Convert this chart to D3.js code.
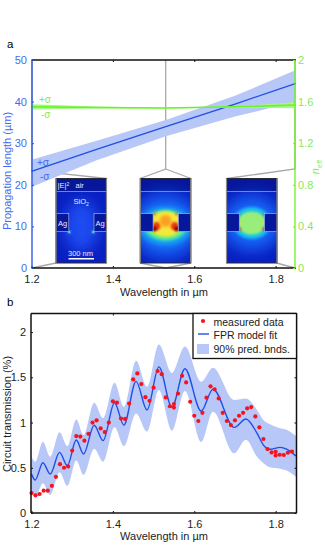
<!DOCTYPE html>
<html>
<head>
<meta charset="utf-8">
<script src="https://cdn.jsdelivr.net/npm/d3@7"></script>
<style>
  html, body { margin: 0; padding: 0; background: #fff; }
  svg { display: block; }
  text { font-family: "Liberation Sans", Arial, sans-serif; }
</style>
</head>
<body>
<div id="chart"></div>
<script>
const BLUE = "#1f4fe6";
const BLUE_TEXT = "#3f6cf0";
const BAND = "#b7c7f7";
const GREEN = "#66f51e";
const GREEN_TEXT = "#86ea58";
const GREY = "#a8a8a8";

// panel a
const xTicks = [1.2, 1.4, 1.6, 1.8];
const lengthTicks = [0, 10, 20, 30, 40, 50];
const neffTicks = [0, 0.4, 0.8, 1.2, 1.6, 2];
const aW = [1.2, 1.36, 1.53, 1.7, 1.85];
const lengthMid = [23.2, 28.5, 34, 39.4, 44.4];
const lengthUpper = [26, 30.6, 35.6, 41.4, 47.6];
const lengthLower = [19.5, 25.9, 31.7, 36.4, 40];
const neffMid = [1.551, 1.543, 1.538, 1.55, 1.567];
const neffUpper = [1.575, 1.552, 1.54, 1.556, 1.595];
const neffLower = [1.525, 1.534, 1.536, 1.542, 1.535];

// panel b
const transTicks = [0, 0.5, 1, 1.5, 2];
const fitW = [1.2, 1.209, 1.228, 1.246, 1.269, 1.288, 1.31, 1.328, 1.354, 1.376, 1.404, 1.427, 1.457, 1.484, 1.513, 1.545, 1.577, 1.617, 1.646, 1.698, 1.727, 1.754, 1.77, 1.786, 1.811, 1.827, 1.85];
const fitT = [0.43, 0.365, 0.556, 0.431, 0.67, 0.523, 0.807, 0.652, 0.97, 0.8, 1.219, 0.972, 1.455, 1.138, 1.615, 1.17, 1.595, 1.127, 1.37, 0.947, 1.039, 0.884, 0.751, 0.704, 0.726, 0.707, 0.63];
const upperT = [0.622, 0.567, 0.788, 0.622, 0.892, 0.74, 1.035, 0.862, 1.219, 1.05, 1.44, 1.175, 1.683, 1.396, 1.864, 1.547, 1.84, 1.45, 1.605, 1.249, 1.267, 1.14, 1.028, 0.98, 0.936, 0.92, 0.85];
const lowerT = [0.236, 0.17, 0.33, 0.2, 0.45, 0.3, 0.58, 0.42, 0.71, 0.567, 0.95, 0.74, 1.1, 0.9, 1.36, 0.91, 1.35, 0.785, 1.12, 0.66, 0.81, 0.622, 0.55, 0.505, 0.49, 0.47, 0.4];
const dotW = [1.2, 1.21, 1.22, 1.23, 1.24, 1.25, 1.26, 1.27, 1.28, 1.29, 1.3, 1.31, 1.32, 1.33, 1.34, 1.35, 1.36, 1.37, 1.38, 1.39, 1.4, 1.41, 1.42, 1.43, 1.44, 1.45, 1.46, 1.47, 1.48, 1.49, 1.5, 1.51, 1.52, 1.53, 1.54, 1.55, 1.55, 1.56, 1.57, 1.58, 1.59, 1.6, 1.61, 1.62, 1.63, 1.64, 1.65, 1.66, 1.67, 1.68, 1.69, 1.7, 1.71, 1.72, 1.73, 1.74, 1.75, 1.76, 1.77, 1.78, 1.79, 1.8, 1.8, 1.81, 1.82, 1.83, 1.84];
const dotT = [0.22, 0.195, 0.21, 0.247, 0.247, 0.3, 0.4, 0.54, 0.5, 0.515, 0.69, 0.85, 0.845, 0.8, 0.875, 1.0, 1.025, 0.935, 0.895, 1.0, 1.235, 1.22, 1.045, 1.04, 1.21, 1.477, 1.543, 1.425, 1.28, 1.24, 1.385, 1.57, 1.535, 1.278, 1.18, 1.205, 1.165, 1.32, 1.517, 1.444, 1.23, 1.075, 1.017, 1.108, 1.275, 1.4, 1.367, 1.267, 1.108, 1.017, 0.972, 1.024, 1.075, 1.108, 1.157, 1.171, 1.068, 0.947, 0.818, 0.707, 0.67, 0.677, 0.637, 0.644, 0.641, 0.666, 0.68];
const legendLabels = ["measured data", "FPR model fit", "90% pred. bnds."];

const svg = d3.select("#chart").append("svg").attr("width", 325).attr("height", 551);
const defs = svg.append("defs");
[["blur1", 0.8], ["blur2", 1.6], ["blur3", 3.5], ["blur4", 7]].forEach(function (b) {
  defs.append("filter").attr("id", b[0])
    .attr("x", "-60%").attr("y", "-60%").attr("width", "220%").attr("height", "220%")
    .append("feGaussianBlur").attr("stdDeviation", b[1]);
});

const x = d3.scaleLinear().domain([1.2, 1.85]).range([31.5, 296]);
const yLen = d3.scaleLinear().domain([0, 50]).range([268, 60]);
const yN = d3.scaleLinear().domain([0, 2]).range([268, 60]);
const yT = d3.scaleLinear().domain([0, 2.2]).range([513, 314]);

function tickText(sel, size, fill) {
  sel.selectAll("text").attr("font-size", size).attr("fill", fill);
}

/* ---------- panel a ---------- */
const a = svg.append("g");
a.append("text").attr("x", 7).attr("y", 48).attr("font-size", 11.5).text("a");

// grey zoom lines from the curve down to the insets
const zoomLines = [
  [[32, 60], [32, 170.5], [106.5, 178.5]],
  [[32, 268], [56, 263]],
  [[165.7, 60], [165.7, 169], [140, 178.5]],
  [[165.7, 169], [191, 178.5]],
  [[140, 263], [165.7, 268], [191, 263]],
  [[295, 60], [295, 169], [227, 178.5]],
  [[276.5, 263], [295, 268]]
];
a.selectAll("path.zoomline").data(zoomLines).join("path")
  .attr("class", "zoomline").attr("fill", "none")
  .attr("stroke", GREY).attr("stroke-width", 1.3)
  .attr("d", d3.line());

const aIdx = d3.range(aW.length);
a.append("path").attr("fill", BAND).attr("d", d3.area()
  .x(i => x(aW[i])).y0(i => yLen(lengthLower[i])).y1(i => yLen(lengthUpper[i]))(aIdx));
a.append("path").attr("fill", "none").attr("stroke", BLUE).attr("stroke-width", 1.3)
  .attr("d", d3.line().x(i => x(aW[i])).y(i => yLen(lengthMid[i]))(aIdx));
a.append("path").attr("fill", "#a8f58a").attr("d", d3.area()
  .x(i => x(aW[i])).y0(i => yN(neffLower[i])).y1(i => yN(neffUpper[i]))(aIdx));
a.append("path").attr("fill", "none").attr("stroke", GREEN).attr("stroke-width", 1.4)
  .attr("d", d3.line().x(i => x(aW[i])).y(i => yN(neffMid[i]))(aIdx));

// sigma labels
[["+σ", 39, 103, GREEN_TEXT], ["-σ", 41, 118, GREEN_TEXT], ["+σ", 37, 166, BLUE_TEXT], ["-σ", 40, 180, BLUE_TEXT]].forEach(function (s) {
  a.append("text").attr("x", s[1]).attr("y", s[2]).attr("font-size", 10).attr("fill", s[3]).text(s[0]);
});

// field insets, built from blurred shapes
function inset(left, hot) {
  const w = 50.5, top = 178.5, h = 84.5;
  const id = "clip" + Math.round(left);
  defs.append("clipPath").attr("id", id).append("rect")
    .attr("x", left).attr("y", top).attr("width", w).attr("height", h);
  const g = a.append("g");
  const f = g.append("g").attr("clip-path", `url(#${id})`);
  const cx = left + w / 2;
  f.append("rect").attr("x", left).attr("y", top).attr("width", w).attr("height", h).attr("fill", "#0a1fc0");
  f.append("rect").attr("x", left).attr("y", top).attr("width", w).attr("height", 13).attr("fill", "#06179c");
  function blob(rx, ry, cy, fill, blur) {
    f.append("ellipse").attr("cx", cx).attr("cy", cy).attr("rx", rx).attr("ry", ry)
      .attr("fill", fill).attr("filter", blur ? `url(#${blur})` : null);
  }
  function pair(dx, cy, r, fill, blur) {
    [-1, 1].forEach(function (s) {
      f.append("circle").attr("cx", cx + s * dx).attr("cy", cy).attr("r", r)
        .attr("fill", fill).attr("filter", blur ? `url(#${blur})` : null);
    });
  }
  if (hot === 0) {
    blob(17, 26, 226, "#1a4cf0", "blur4");
    pair(12, 232, 1.6, "#2be0e0", "blur1");
    pair(12, 232, 0.8, "#e8f060", null);
  } else if (hot === 1) {
    blob(34, 32, 226, "#1560f5", "blur4");
    blob(26, 18, 226, "#16c0f0", "blur3");
    blob(21, 15, 225, "#6cf080", "blur2");
    blob(17, 12.5, 224, "#f4e83a", "blur1");
    pair(9, 226, 4, "#f03a10", "blur1");
    pair(11, 229, 2.4, "#7a0606", "blur1");
    pair(11, 214, 1.3, "#f05020", "blur1");
    blob(6, 6, 221, "#fda020", "blur2");
  } else {
    blob(30, 28, 223, "#1560f5", "blur4");
    blob(19, 16, 223, "#18c4ee", "blur2");
    blob(14, 11.5, 223, "#98ee78", "blur1");
    pair(12, 223, 1.2, "#f6dc30", "blur1");
    pair(12.5, 229, 1.8, "#e82a10", "blur1");
    pair(12.5, 214.5, 1.1, "#e84a18", "blur1");
  }
  // Ag blocks and the interface line
  const gap = 12.5;
  [[left, left + gap + 0.3], [left + w - gap, left + w + 1]].forEach(function (r) {
    f.append("rect").attr("x", r[0]).attr("y", 213.5).attr("width", r[1] - r[0]).attr("height", 18)
      .attr("fill", "#06179c").attr("stroke", "#9fb0ea").attr("stroke-width", 0.7);
  });
  f.append("line").attr("x1", left).attr("x2", left + w).attr("y1", 191.5).attr("y2", 191.5)
    .attr("stroke", "#7c90e6").attr("stroke-width", 0.9);
  g.append("rect").attr("x", left).attr("y", top).attr("width", w).attr("height", h)
    .attr("fill", "none").attr("stroke", "#2a2a3a").attr("stroke-width", 1);
  g.append("line").attr("x1", left).attr("x2", left).attr("y1", top).attr("y2", top + h)
    .attr("stroke", "#8a8a8a").attr("stroke-width", 1.2);
  g.append("line").attr("x1", left + w).attr("x2", left + w).attr("y1", top).attr("y2", top + h)
    .attr("stroke", "#8a8a8a").attr("stroke-width", 1.2);
  return g;
}
const first = inset(56, 0);
inset(140.3, 1);
inset(226.5, 2);

function insetText(t, px, py, size, anchor) {
  return first.append("text").attr("x", px).attr("y", py).attr("font-size", size)
    .attr("fill", "#e8ecff").attr("text-anchor", anchor || "start").text(t);
}
const eText = insetText("|E|", 57.5, 188, 7.5);
eText.append("tspan").attr("font-size", 5).attr("dy", -2.5).text("2");
insetText("air", 75.5, 188, 7.5);
const sioText = insetText("SiO", 73.5, 204, 7.5);
sioText.append("tspan").attr("font-size", 5).attr("dy", 2).text("2");
insetText("Ag", 62.7, 226, 7.5, "middle");
insetText("Ag", 100, 226, 7.5, "middle");
insetText("300 nm", 80.5, 257, 7.5, "middle").attr("y", 256);
first.append("rect").attr("x", 68.5).attr("y", 258).attr("width", 25.5).attr("height", 1.5).attr("fill", "#fff");

// axes of panel a
const aBottom = a.append("g").attr("transform", "translate(0,268)")
  .call(d3.axisBottom(x).tickValues(xTicks).tickFormat(d3.format(".1f")).tickSize(-2).tickPadding(7));
aBottom.select(".domain").attr("stroke", "#111").attr("stroke-width", 1.5).attr("d", "M31.5,0H296");
aBottom.selectAll("line").attr("stroke", "#111");
tickText(aBottom, 11, "#222");
const aTop = a.append("g").attr("transform", "translate(0,60)")
  .call(d3.axisTop(x).tickValues(xTicks.slice(1)).tickFormat("").tickSize(-2));
aTop.select(".domain").attr("stroke", "#111").attr("stroke-width", 1.5).attr("d", "M31.5,0H296");
aTop.selectAll("line").attr("stroke", "#111");
const aLeft = a.append("g").attr("transform", "translate(32,0)")
  .call(d3.axisLeft(yLen).tickValues(lengthTicks).tickSize(-2).tickPadding(5));
aLeft.select(".domain").attr("stroke", BLUE).attr("stroke-width", 1.3).attr("d", "M0,60V268");
aLeft.selectAll("line").attr("stroke", BLUE);
tickText(aLeft, 11, BLUE_TEXT);
const aRight = a.append("g").attr("transform", "translate(295,0)")
  .call(d3.axisRight(yN).tickValues(neffTicks).tickFormat(d => d).tickSize(-2).tickPadding(4));
aRight.select(".domain").attr("stroke", GREEN).attr("stroke-width", 1.3).attr("d", "M0,60V268");
aRight.selectAll("line").attr("stroke", GREEN);
tickText(aRight, 11, GREEN_TEXT);
aRight.selectAll("text").attr("x", 3);

a.append("text").attr("transform", "translate(11,171) rotate(-90)").attr("text-anchor", "middle")
  .attr("font-size", 11).attr("fill", BLUE_TEXT).text("Propagation length (µm)");
const neffLabel = a.append("text").attr("transform", "translate(319,167) rotate(-90)").attr("text-anchor", "middle")
  .attr("font-size", 11).attr("fill", GREEN_TEXT);
neffLabel.append("tspan").attr("font-style", "italic").text("n");
neffLabel.append("tspan").attr("font-size", 7.5).attr("dy", 2.5).text("eff");
a.append("text").attr("x", 164).attr("y", 296).attr("text-anchor", "middle").attr("font-size", 11)
  .attr("fill", "#222").text("Wavelength in µm");

/* ---------- panel b ---------- */
const b = svg.append("g");
b.append("text").attr("x", 7).attr("y", 306).attr("font-size", 11.5).text("b");

const fitIdx = d3.range(fitW.length);
b.append("path").attr("fill", BAND).attr("d", d3.area().curve(d3.curveMonotoneX)
  .x(i => x(fitW[i])).y0(i => yT(lowerT[i])).y1(i => yT(upperT[i]))(fitIdx));
b.append("path").attr("fill", "none").attr("stroke", BLUE).attr("stroke-width", 1.4)
  .attr("d", d3.line().curve(d3.curveMonotoneX).x(i => x(fitW[i])).y(i => yT(fitT[i]))(fitIdx));
b.selectAll("circle.dot").data(dotW).join("circle").attr("class", "dot")
  .attr("cx", d => x(d)).attr("cy", (d, i) => yT(dotT[i])).attr("r", 2.1).attr("fill", "#f5141e");

// frame and ticks of panel b
const bBottom = b.append("g").attr("transform", "translate(0,513)")
  .call(d3.axisBottom(x).tickValues(xTicks).tickFormat(d3.format(".1f")).tickSize(-2).tickPadding(7));
const bTop = b.append("g").attr("transform", "translate(0,313.5)")
  .call(d3.axisTop(x).tickValues(xTicks.slice(1)).tickFormat("").tickSize(-2));
const bLeft = b.append("g").attr("transform", "translate(31,0)")
  .call(d3.axisLeft(yT).tickValues(transTicks).tickFormat(d => d).tickSize(-2).tickPadding(5));
const bRight = b.append("g").attr("transform", "translate(296.5,0)")
  .call(d3.axisRight(yT).tickValues(transTicks).tickFormat("").tickSize(-2));
[bBottom, bTop].forEach(function (g) {
  g.select(".domain").attr("stroke", "#111").attr("stroke-width", 1.5).attr("d", "M31,0H296.5");
  g.selectAll("line").attr("stroke", "#111");
});
[bLeft, bRight].forEach(function (g) {
  g.select(".domain").attr("stroke", "#111").attr("stroke-width", 1.5).attr("d", "M0,313.5V513");
  g.selectAll("line").attr("stroke", "#111");
});
tickText(bBottom, 11, "#222");
tickText(bLeft, 11, "#222");

b.append("text").attr("transform", "translate(11,414) rotate(-90)").attr("text-anchor", "middle")
  .attr("font-size", 11).attr("fill", "#222").text("Circuit transmission (%)");
b.append("text").attr("x", 164).attr("y", 540).attr("text-anchor", "middle").attr("font-size", 11)
  .attr("fill", "#222").text("Wavelength in µm");

// legend
const legend = b.append("g");
legend.append("rect").attr("x", 193).attr("y", 313.5).attr("width", 103.5).attr("height", 45)
  .attr("fill", "#fff").attr("stroke", "#111").attr("stroke-width", 1.3);
legend.append("circle").attr("cx", 203).attr("cy", 321).attr("r", 2.1).attr("fill", "#f5141e");
legend.append("line").attr("x1", 198).attr("x2", 209).attr("y1", 334).attr("y2", 334)
  .attr("stroke", BLUE).attr("stroke-width", 1.4);
legend.append("rect").attr("x", 197).attr("y", 344).attr("width", 12).attr("height", 10).attr("fill", BAND);
legend.selectAll("text").data(legendLabels).join("text")
  .attr("x", 213.5).attr("y", (d, i) => [326, 339, 353][i])
  .attr("font-size", 10.5).attr("fill", "#222").text(d => d);
</script>
</body>
</html>
